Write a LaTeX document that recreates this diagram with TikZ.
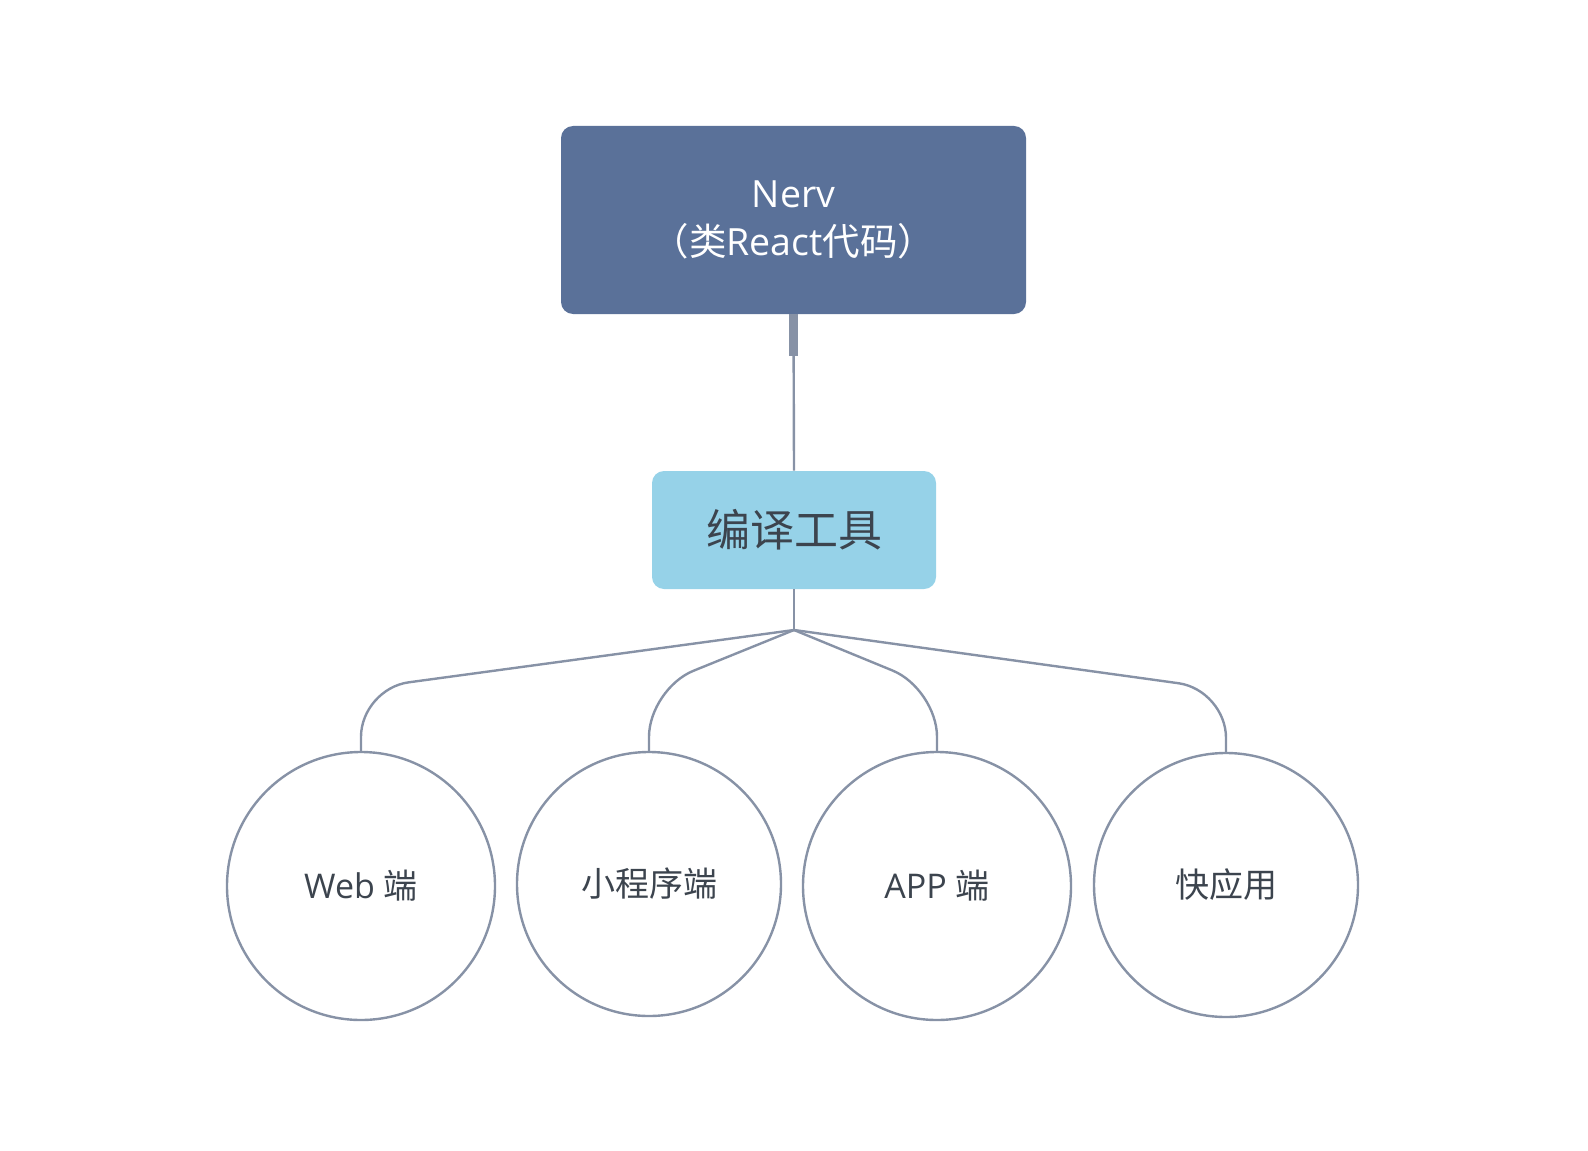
\documentclass[tikz,border=0pt]{standalone}
\usepackage{fontspec}
\setmainfont{Open Sans}
\newfontfamily\cjk{Noto Sans CJK SC}
\usetikzlibrary{calc}

\definecolor{nervblue}{RGB}{90,113,153}
\definecolor{toolblue}{RGB}{150,210,232}
\definecolor{linkgray}{RGB}{135,146,166}
\definecolor{textgray}{RGB}{60,68,78}

\begin{document}
\begin{tikzpicture}[x=0.5pt, y=-0.5pt,
  rootbox/.style={rectangle, rounded corners=6pt, fill=nervblue, text=white, minimum width=232.5pt, minimum height=94pt, align=center, font=\fontsize{18.75pt}{24pt}\selectfont},
  toolbox/.style={rectangle, rounded corners=6pt, fill=toolblue, text=textgray, minimum width=142pt, minimum height=59pt, font=\fontsize{22pt}{26pt}\selectfont},
  target/.style={circle, draw=linkgray, line width=1.2pt, fill=white, inner sep=0pt, text=textgray, font=\fontsize{17pt}{20pt}\selectfont},
  link/.style={draw=linkgray, line width=1.2pt, rounded corners=24pt},
  stub/.style={draw=linkgray, line width=4.5pt}]
			\useasboundingbox (0,0) rectangle (1588,1150);
			% source and compiler
			\node[rootbox] (nerv) at (793.5,220) {Nerv\\{\cjk （类}React{\cjk 代码）}};
			\node[toolbox] (tool) at (794,530) {\cjk 编译工具};
			\draw[link] (nerv.south) -- (tool.north);
			\draw[stub] (nerv.south) -- ++(0,42);
			% platforms
			\node[target, minimum size=134pt] (web) at (361,886) {Web {\cjk 端}};
			\node[target, minimum size=132pt] (mini) at (649,884) {\cjk 小程序端};
			\node[target, minimum size=134pt] (app) at (937,886) {APP {\cjk 端}};
			\node[target, minimum size=132pt] (quick) at (1226,885) {\cjk 快应用};
			\coordinate (fork) at (794,630);
			\draw[link] (tool.south) -- (fork);
			\foreach \t in {web, mini, app, quick}
				\draw[link] (fork) -- ($(\t.north)+(0,-62)$) -- (\t.north);
\end{tikzpicture}
\end{document}
